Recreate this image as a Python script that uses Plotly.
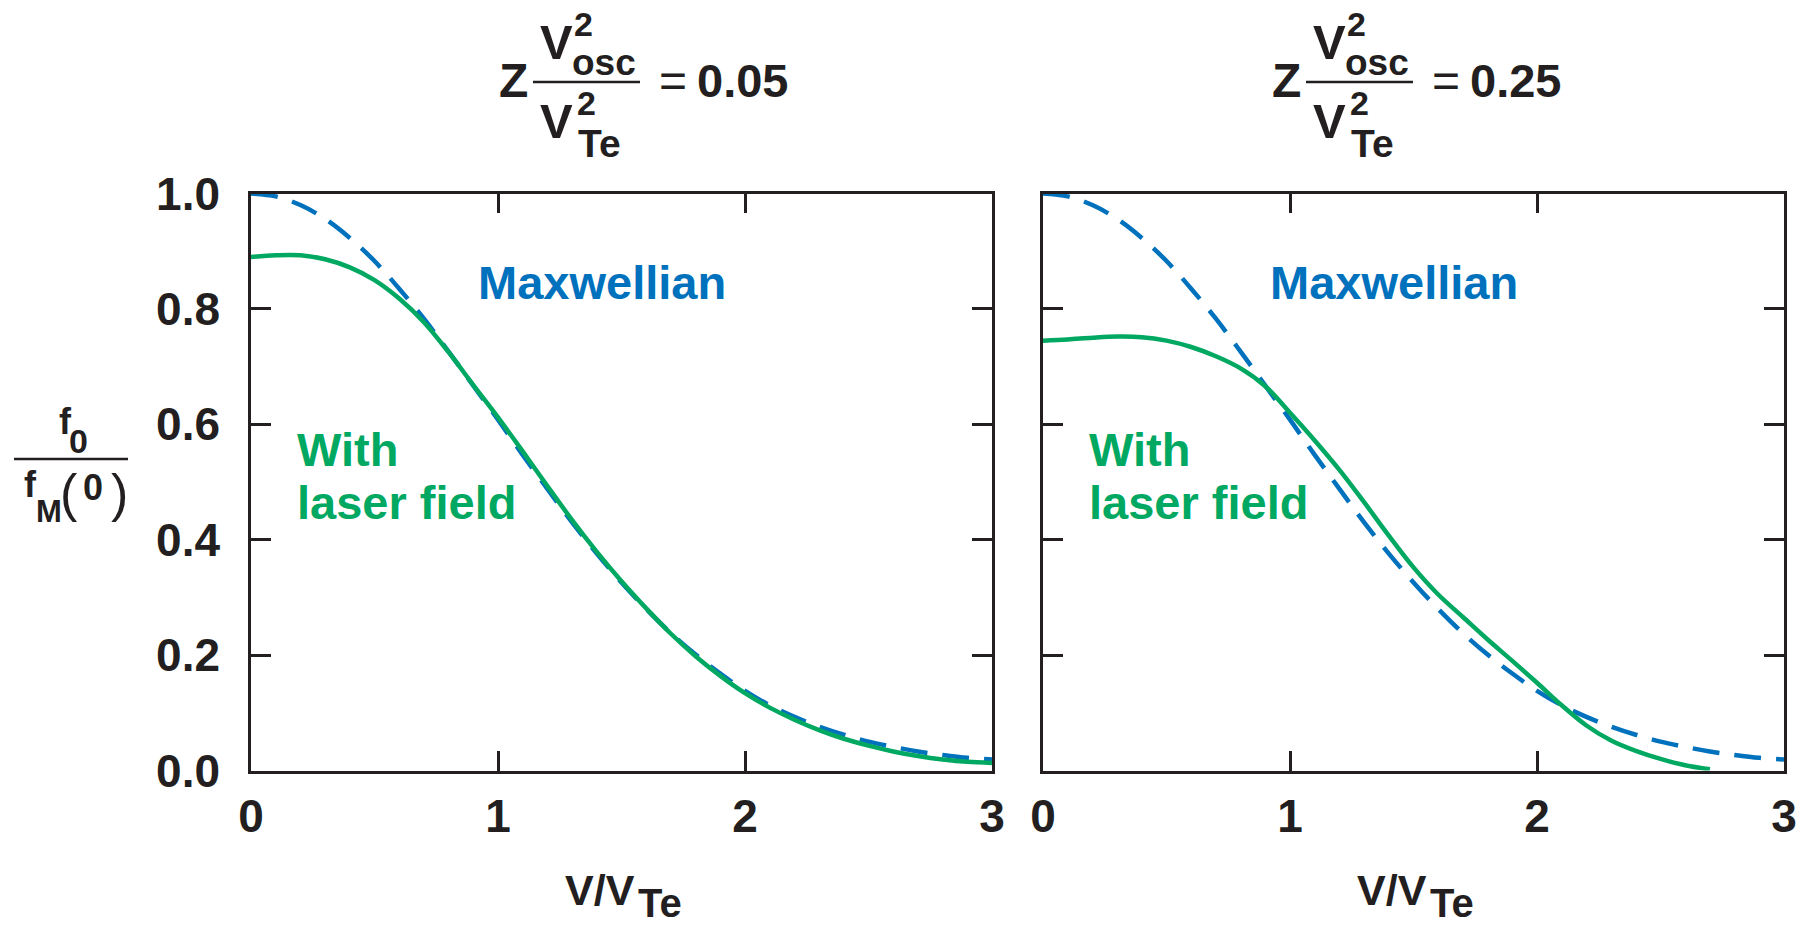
import plotly.graph_objects as go

W, H = 1810, 927

# ---------------- data ----------------
v_grid = [0.0, 0.1, 0.2, 0.3, 0.4, 0.5, 0.6, 0.7, 0.8, 0.9, 1.0,
          1.1, 1.2, 1.3, 1.4, 1.5, 1.6, 1.7, 1.8, 1.9, 2.0,
          2.1, 2.2, 2.3, 2.4, 2.5, 2.6, 2.7, 2.8, 2.9, 3.0]

maxwellian = [1.000, 0.995, 0.980, 0.956, 0.923, 0.883, 0.835, 0.783, 0.726, 0.667, 0.608,
              0.547, 0.488, 0.430, 0.376, 0.326, 0.280, 0.238, 0.201, 0.168, 0.138,
              0.113, 0.093, 0.076, 0.062, 0.050, 0.041, 0.033, 0.027, 0.022, 0.019]

laser_005 = [0.890, 0.893, 0.893, 0.886, 0.872, 0.850, 0.818, 0.777, 0.725, 0.668, 0.612,
             0.553, 0.493, 0.434, 0.379, 0.328, 0.281, 0.237, 0.198, 0.164, 0.134,
             0.109, 0.088, 0.070, 0.055, 0.043, 0.033, 0.025, 0.019, 0.015, 0.013]

v_laser_025 = [0.0, 0.1, 0.2, 0.3, 0.4, 0.5, 0.6, 0.7, 0.8, 0.9, 1.0,
               1.1, 1.2, 1.3, 1.4, 1.5, 1.6, 1.7, 1.8, 1.9, 2.0,
               2.1, 2.2, 2.3, 2.4, 2.5, 2.6, 2.7]
laser_025 = [0.745, 0.747, 0.750, 0.752, 0.751, 0.745, 0.734, 0.718, 0.697, 0.666, 0.620,
             0.572, 0.521, 0.465, 0.407, 0.352, 0.305, 0.266, 0.227, 0.190, 0.152,
             0.113, 0.078, 0.052, 0.034, 0.020, 0.009, 0.002]

x_ticks = [0, 1, 2, 3]
y_ticks = [0.0, 0.2, 0.4, 0.6, 0.8, 1.0]
y_ticktext = ["0.0", "0.2", "0.4", "0.6", "0.8", "1.0"]
panel_values = ["0.05", "0.25"]

# ---------------- style ----------------
BLUE = "#0071BC"
GREEN = "#00A862"
INK = "#231F20"
FONT = "Liberation Sans"
DASH = "27px,15px"

fig = go.Figure()

fig.add_trace(go.Scatter(x=v_grid, y=maxwellian, mode="lines", xaxis="x", yaxis="y",
                         line=dict(color=BLUE, width=4.5, dash=DASH, shape="spline"), showlegend=False))
fig.add_trace(go.Scatter(x=v_grid, y=laser_005, mode="lines", xaxis="x", yaxis="y",
                         line=dict(color=GREEN, width=4.5, shape="spline"), showlegend=False))
fig.add_trace(go.Scatter(x=v_grid, y=maxwellian, mode="lines", xaxis="x2", yaxis="y2",
                         line=dict(color=BLUE, width=4.5, dash=DASH, shape="spline"), showlegend=False))
fig.add_trace(go.Scatter(x=v_laser_025, y=laser_025, mode="lines", xaxis="x2", yaxis="y2",
                         line=dict(color=GREEN, width=4.5, shape="spline"), showlegend=False))

X1 = (251, 992)
X2 = (1043, 1784)
YT, YB = 193.5, 770.5

def xax(dom, anchor):
    return dict(domain=[dom[0] / W, dom[1] / W], range=[0, 3], anchor=anchor,
                tickvals=x_ticks, ticks="inside", ticklen=20, tickwidth=2.5, tickcolor=INK,
                showline=True, linewidth=2.5, linecolor=INK, mirror="allticks",
                showgrid=False, zeroline=False, ticklabelstandoff=4, automargin=False,
                tickfont=dict(family=FONT, size=46, color=INK, weight="bold"))

def yax(anchor, show_labels):
    return dict(domain=[1 - YB / H, 1 - YT / H], range=[0, 1], anchor=anchor,
                tickvals=y_ticks, ticktext=y_ticktext, showticklabels=show_labels,
                ticks="inside", ticklen=20, tickwidth=2.5, tickcolor=INK,
                showline=True, linewidth=2.5, linecolor=INK, mirror="allticks",
                showgrid=False, zeroline=False, ticklabelstandoff=19, automargin=False,
                tickfont=dict(family=FONT, size=46, color=INK, weight="bold"))

annotations = []
shapes = []

def txt(text, x, y, size, xanchor="center", yanchor="middle", color=INK, bold=True):
    annotations.append(dict(text=text, x=x / W, y=1 - y / H, xref="paper", yref="paper",
                            xanchor=xanchor, yanchor=yanchor, showarrow=False,
                            font=dict(family=FONT, size=size, color=color,
                                      weight="bold" if bold else "normal")))

def bar(x0, x1, y, w=2.5):
    shapes.append(dict(type="line", xref="paper", yref="paper",
                       x0=x0 / W, x1=x1 / W, y0=1 - y / H, y1=1 - y / H,
                       line=dict(color=INK, width=w)))

# panel titles (fraction built from pieces)
for off, val in zip([0, 773], panel_values):
    txt("Z", 513 + off, 80.5, 48)
    txt("V", 556 + off, 42, 49)
    txt("2", 583 + off, 24, 34)
    txt("osc", 570 + off, 62.5, 37, xanchor="left")
    bar(533 + off, 640 + off, 82)
    txt("V", 556 + off, 121, 49)
    txt("2", 586 + off, 103, 34)
    txt("Te", 576 + off, 143.5, 39, xanchor="left")
    txt("=", 672.5 + off, 81, 48, bold=False)
    txt(val, 742.5 + off, 80.5, 47)

# y-axis label  f0 / fM(0)
txt("f", 65, 421, 36)
txt("0", 78, 440.5, 34)
bar(14, 128, 459, 2.5)
txt("f", 30, 485, 36)
txt("M", 48.5, 511, 31)
txt("(", 69, 493, 52, bold=False)
txt("0", 93, 487.5, 36)
txt(")", 119, 493, 52, bold=False)

# x-axis labels
for off in [0, 792]:
    txt("V/V", 637 + off, 890, 43, xanchor="right")
    txt("Te", 636 + off, H, 40, xanchor="left", yanchor="bottom")

# in-plot labels (data coordinates)
for xr, yr in [("x", "y"), ("x2", "y2")]:
    annotations.append(dict(text="Maxwellian", x=1.42, y=0.845, xref=xr, yref=yr,
                            xanchor="center", yanchor="middle", showarrow=False,
                            font=dict(family=FONT, size=47, color=BLUE, weight="bold")))
    annotations.append(dict(text="With", x=0.18, y=0.5555, xref=xr, yref=yr,
                            xanchor="left", yanchor="middle", showarrow=False,
                            font=dict(family=FONT, size=47, color=GREEN, weight="bold")))
    annotations.append(dict(text="laser field", x=0.18, y=0.4645, xref=xr, yref=yr,
                            xanchor="left", yanchor="middle", showarrow=False,
                            font=dict(family=FONT, size=47, color=GREEN, weight="bold")))

fig.update_layout(
    width=W, height=H,
    margin=dict(l=0, r=0, t=0, b=0, autoexpand=False),
    paper_bgcolor="white", plot_bgcolor="white",
    xaxis=xax(X1, "y"), yaxis=yax("x", True),
    xaxis2=xax(X2, "y2"), yaxis2=yax("x2", False),
    annotations=annotations, shapes=shapes,
    showlegend=False,
)

fig.write_html("out.html")
